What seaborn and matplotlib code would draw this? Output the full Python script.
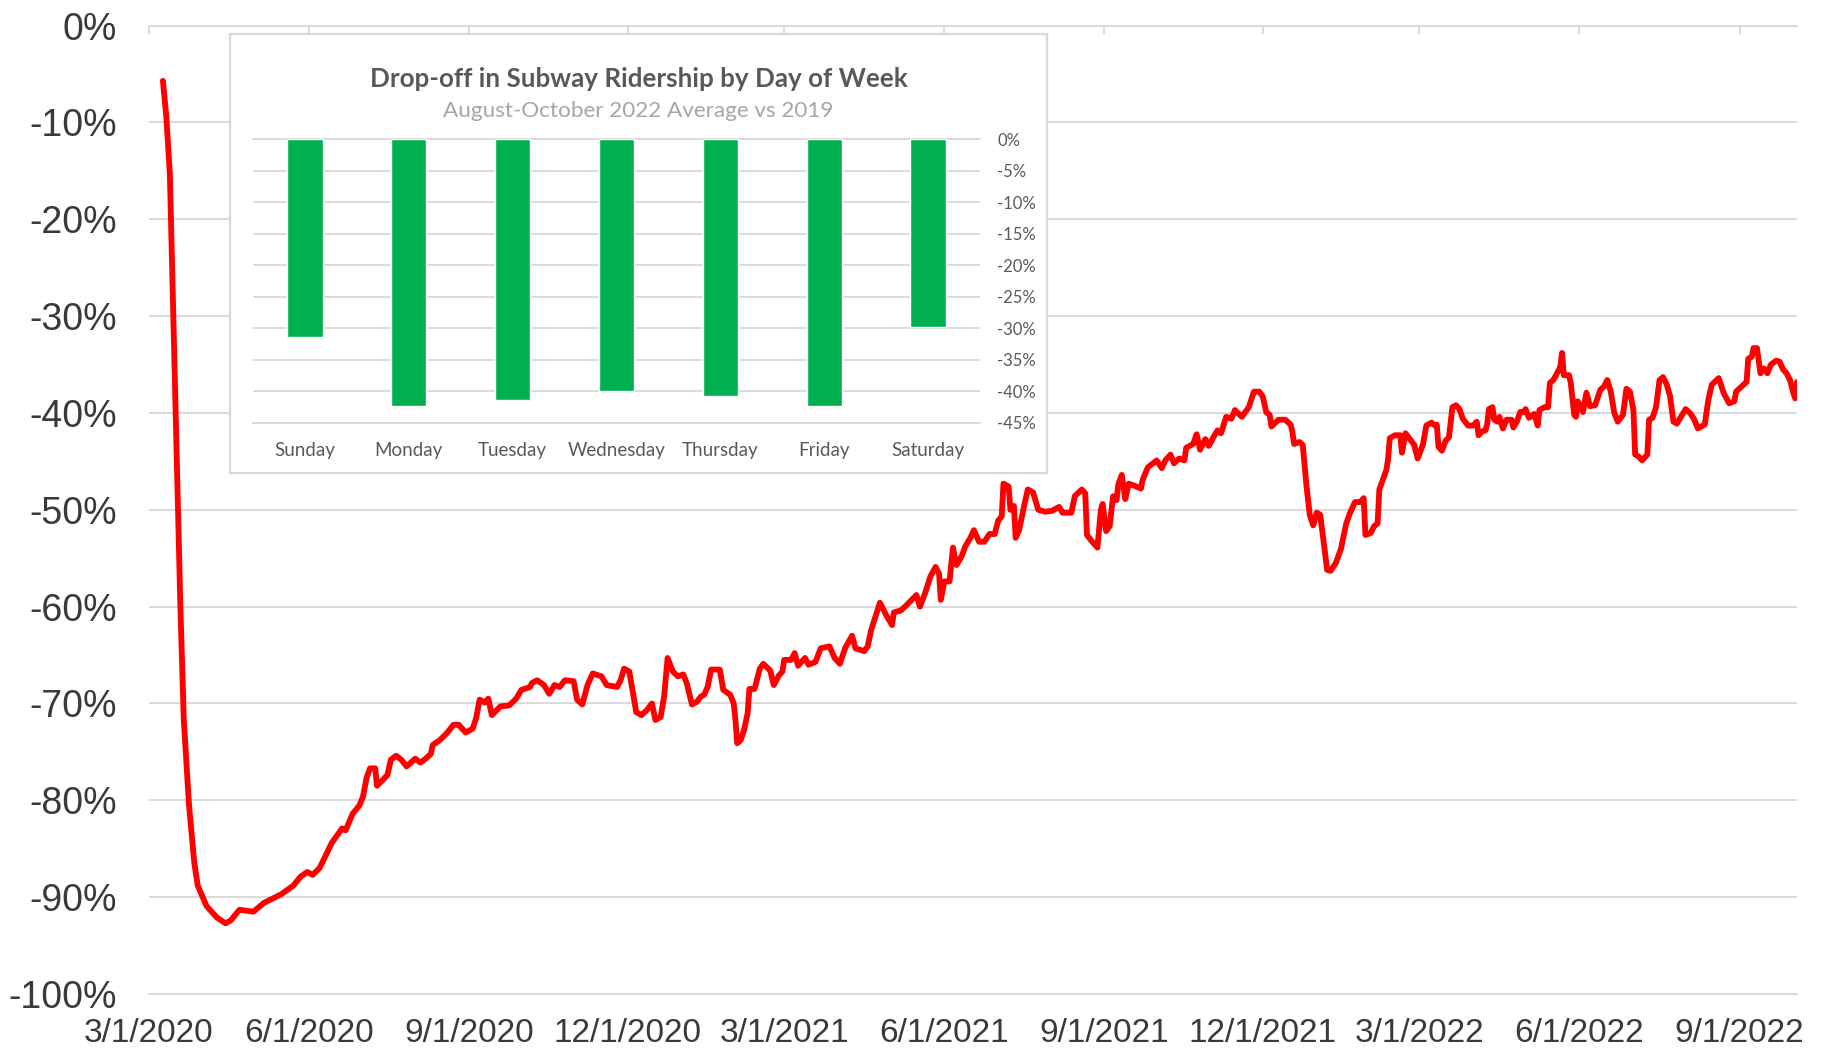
import matplotlib
matplotlib.use("Agg")
import matplotlib.pyplot as plt
import matplotlib.dates as mdates
from matplotlib.ticker import FuncFormatter, MultipleLocator
import numpy as np
import pandas as pd
import seaborn as sns

# daily subway ridership vs 2019 (days after 3/1/2020, percent)
start_date = "2020-03-01"
day_offset = [
    8, 10, 12, 14, 16, 18, 20, 23, 26, 28, 33, 39, 44, 47, 52, 60, 66, 76, 83,
    87, 91, 94, 98, 101, 105, 111, 113, 117, 121, 123, 125, 127, 130, 131, 137, 139,
    142, 145, 148, 153, 156, 159, 162, 163, 167, 171, 175, 178, 182, 186, 188, 190,
    193, 195, 197, 202, 207, 211, 214, 219, 220, 223, 227, 230, 233, 236, 239, 244,
    246, 249, 252, 255, 260, 263, 266, 269, 271, 273, 276, 280, 283, 286, 289, 291,
    294, 296, 298, 301, 304, 307, 309, 312, 315, 317, 319, 321, 323, 328, 330, 334,
    336, 337, 338, 340, 342, 344, 345, 348, 351, 353, 357, 359, 362, 364, 365, 369,
    371, 373, 377, 379, 383, 386, 391, 394, 397, 400, 404, 406, 411, 413, 415, 420,
    424, 427, 428, 432, 435, 441, 443, 446, 449, 452, 454, 455, 457, 460, 462, 464,
    467, 469, 472, 474, 477, 480, 483, 486, 488, 490, 491, 494, 495, 497, 498, 500,
    503, 505, 508, 511, 515, 519, 523, 525, 530, 532, 536, 538, 539, 542, 545, 547,
    548, 550, 552, 554, 556, 557, 559, 561, 563, 566, 570, 571, 574, 577, 579, 582,
    584, 587, 589, 592, 595, 596, 600, 602, 604, 607, 609, 612, 614, 616, 619, 622,
    624, 628, 630, 632, 634, 635, 638, 640, 642, 644, 645, 649, 653, 656, 657, 658,
    661, 663, 665, 667, 669, 671, 673, 675, 677, 679, 682, 685, 686, 688, 690, 693,
    696, 698, 699, 702, 704, 706, 707, 709, 711, 712, 713, 716, 719, 720, 722, 725,
    727, 729, 732, 734, 737, 739, 740, 741, 743, 745, 747, 749, 751, 753, 755, 758,
    761, 763, 764, 766, 768, 769, 770, 772, 773, 775, 776, 778, 780, 783, 784, 786,
    788, 790, 791, 793, 796, 798, 799, 802, 804, 805, 807, 810, 811, 812, 813, 816,
    817, 819, 820, 821, 824, 826, 828, 831, 834, 836, 838, 840, 842, 844, 847, 849,
    851, 853, 854, 856, 858, 861, 862, 864, 866, 868, 870, 872, 874, 876, 878, 881,
    883, 886, 888, 890, 894, 896, 898, 902, 905, 908, 911, 912, 915, 918, 919, 921,
    922, 924, 926, 928, 930, 932, 935, 937, 939, 941, 943, 945, 946, 947,
]
ridership_change = [
    -5.7, -9.5, -15.4, -30.2, -45.0, -59.8, -71.7, -80.5, -86.4, -88.8, -90.9, -92.1, -92.7, -92.4, -91.3, -91.5, -90.6, -89.7, -88.8,
    -87.9, -87.4, -87.7, -87.0, -85.9, -84.4, -82.9, -83.1, -81.4, -80.5, -79.6, -77.7, -76.7, -76.7, -78.5, -77.4, -75.8,
    -75.4, -75.8, -76.5, -75.7, -76.1, -75.7, -75.2, -74.3, -73.8, -73.1, -72.2, -72.2, -73.0, -72.6, -71.5, -69.6,
    -69.9, -69.5, -71.2, -70.3, -70.2, -69.5, -68.6, -68.3, -67.9, -67.6, -68.1, -69.0, -68.1, -68.3, -67.6, -67.7,
    -69.6, -70.1, -68.1, -66.9, -67.2, -68.1, -68.2, -68.3, -67.6, -66.4, -66.7, -70.9, -71.2, -70.7, -70.0, -71.7,
    -71.4, -69.3, -65.3, -66.7, -67.2, -67.0, -67.9, -70.1, -69.8, -69.3, -69.1, -68.3, -66.5, -66.5, -68.6, -69.1,
    -70.0, -71.7, -74.1, -73.8, -72.7, -71.0, -68.5, -68.5, -66.4, -65.9, -66.6, -68.1, -67.1, -66.7, -65.5, -65.5,
    -64.8, -66.1, -65.3, -66.0, -65.7, -64.3, -64.1, -65.3, -65.9, -64.3, -63.0, -64.3, -64.6, -64.1, -62.4, -59.6,
    -61.0, -61.9, -60.6, -60.4, -59.9, -58.8, -60.0, -58.6, -56.9, -55.9, -56.6, -59.3, -57.4, -57.4, -53.9, -55.7,
    -54.8, -53.8, -52.9, -52.1, -53.3, -53.3, -52.5, -52.5, -51.1, -50.7, -47.3, -47.6, -50.0, -49.6, -52.9, -52.1,
    -49.5, -47.9, -48.2, -50.0, -50.2, -50.1, -49.7, -50.3, -50.3, -48.6, -47.9, -48.3, -52.6, -53.3, -53.9, -50.0,
    -49.4, -52.2, -51.7, -48.6, -49.0, -47.4, -46.4, -48.9, -47.3, -47.5, -47.8, -46.9, -45.6, -45.2, -44.9, -45.7,
    -44.9, -44.3, -45.2, -44.7, -44.9, -43.6, -43.2, -42.2, -43.8, -42.7, -43.4, -42.4, -41.8, -42.1, -40.4, -40.6,
    -39.7, -40.4, -39.9, -39.4, -38.3, -37.8, -37.8, -38.3, -39.9, -40.2, -41.4, -40.7, -40.7, -41.2, -41.9, -43.2,
    -43.0, -43.3, -47.3, -50.5, -51.6, -50.3, -50.5, -53.3, -56.2, -56.3, -55.5, -54.0, -53.1, -51.4, -50.4, -49.2,
    -49.2, -48.8, -52.6, -52.4, -51.7, -51.4, -47.9, -46.9, -45.9, -44.8, -42.6, -42.3, -42.3, -44.1, -42.1, -42.8,
    -43.3, -44.7, -43.3, -41.3, -41.0, -41.3, -41.2, -43.5, -43.9, -42.9, -42.5, -39.4, -39.2, -39.6, -40.6, -41.3,
    -41.3, -40.9, -42.3, -41.9, -41.8, -41.1, -39.6, -39.4, -40.7, -40.9, -40.4, -41.6, -40.7, -40.7, -41.5, -40.9,
    -39.9, -39.9, -39.6, -40.5, -40.1, -41.3, -39.7, -39.4, -39.4, -36.9, -36.6, -35.6, -35.2, -33.8, -36.1, -36.1,
    -36.9, -40.2, -40.4, -38.8, -39.9, -37.9, -39.3, -39.2, -37.6, -37.3, -36.6, -37.8, -40.0, -40.9, -40.2, -37.5,
    -37.8, -39.7, -44.3, -44.5, -44.9, -44.3, -40.7, -40.5, -39.4, -36.6, -36.3, -37.0, -38.2, -40.9, -41.1, -40.2,
    -39.6, -40.1, -40.7, -41.6, -41.2, -38.7, -37.1, -36.4, -38.0, -39.0, -38.8, -37.8, -37.3, -36.8, -34.4, -34.2,
    -33.3, -33.3, -35.9, -35.4, -35.9, -35.0, -34.6, -34.7, -35.5, -35.9, -36.6, -38.0, -38.5, -36.8,
]
axis_end_day = 947

# inset: Aug-Oct 2022 average vs 2019 by day of week
weekdays = ["Sunday", "Monday", "Tuesday", "Wednesday", "Thursday", "Friday", "Saturday"]
weekday_change = [-31.3, -42.3, -41.3, -40.0, -40.7, -42.3, -29.7]

inset_title = "Drop-off in Subway Ridership by Day of Week"
inset_subtitle = "August-October 2022 Average vs 2019"

sns.set_style("white")
plt.rcParams['font.family'] = ['Liberation Sans', 'DejaVu Sans']

W, H = 1823, 1049
fig = plt.figure(figsize=(W / 100, H / 100), dpi=100)
fig.patch.set_facecolor("white")

grid_c = "#D9D9D9"
base = pd.Timestamp(start_date)
df = pd.DataFrame({
    "date": base + pd.to_timedelta(day_offset, unit="D"),
    "change": ridership_change,
})

# main chart
ax = fig.add_axes([149 / W, 1 - 994 / H, (1797 - 149) / W, (994 - 25.6) / H])
sns.lineplot(data=df, x="date", y="change", ax=ax, color="#FF0000", linewidth=4.2,
             solid_joinstyle="round", solid_capstyle="round")
ax.set_xlim(base, base + pd.Timedelta(days=axis_end_day))
ax.set_ylim(-100, 0)
ax.yaxis.set_major_locator(MultipleLocator(10))
ax.yaxis.set_major_formatter(FuncFormatter(lambda v, _: f"{int(round(v))}%"))
ax.xaxis.set_major_locator(mdates.MonthLocator(bymonth=[3, 6, 9, 12], bymonthday=1))
ax.xaxis.set_major_formatter(FuncFormatter(
    lambda v, _: "{d.month}/{d.day}/{d.year}".format(d=mdates.num2date(v))))
ax.set_xlabel("")
ax.set_ylabel("")
ax.grid(axis="y", color=grid_c, linewidth=1.4)
ax.grid(axis="x", visible=False)
for side in ["left", "right"]:
    ax.spines[side].set_visible(False)
for side in ["top", "bottom"]:
    ax.spines[side].set_color(grid_c)
    ax.spines[side].set_linewidth(1.4)
ax.tick_params(axis="y", left=False, labelsize=27, labelcolor="#3A3A3A", pad=19.5)
ax.tick_params(axis="x", top=True, bottom=False, direction="in", length=6, width=1.4,
               color=grid_c, labelbottom=True, labeltop=False, labelsize=24,
               labelcolor="#3A3A3A", pad=17)

# inset frame
frame = fig.add_axes([230 / W, 1 - 473 / H, (1047 - 230) / W, (473 - 34) / H], zorder=5)
frame.set_facecolor("white")
frame.set_xticks([])
frame.set_yticks([])
for s in frame.spines.values():
    s.set_color(grid_c)
    s.set_linewidth(1.6)
inset_font = ['Lato', 'DejaVu Sans']
frame.text(0.5, 1 - (79.5 - 34) / 439, inset_title, transform=frame.transAxes, ha="center",
           va="center", fontsize=18.7, fontweight="bold", color="#595959", family=inset_font)
frame.text(0.5, 1 - (111.5 - 34) / 439, inset_subtitle, transform=frame.transAxes, ha="center",
           va="center", fontsize=16.2, color="#A6A6A6", family=inset_font)

# inset bars
bx = fig.add_axes([253 / W, 1 - 423 / H, (980 - 253) / W, (423 - 139.5) / H], zorder=6)
bx.patch.set_alpha(0)
bar_df = pd.DataFrame({"day": weekdays, "change": weekday_change})
sns.barplot(data=bar_df, x="day", y="change", ax=bx, color="#00B050", saturation=1,
            width=0.34, zorder=3)
bx.set_ylim(-45, 0)
bx.set_xlim(-0.5, len(weekdays) - 0.5)
bx.yaxis.set_major_locator(MultipleLocator(5))
bx.yaxis.set_major_formatter(FuncFormatter(lambda v, _: f"{int(round(v))}%"))
bx.yaxis.tick_right()
bx.set_xlabel("")
bx.set_ylabel("")
bx.grid(axis="y", color=grid_c, linewidth=1.3, zorder=0)
bx.set_axisbelow(True)
for side in ["left", "right"]:
    bx.spines[side].set_visible(False)
for side in ["top", "bottom"]:
    bx.spines[side].set_color(grid_c)
    bx.spines[side].set_linewidth(1.3)
bx.tick_params(axis="y", right=False, left=False, labelsize=12, labelcolor="#595959", pad=9)
bx.tick_params(axis="x", bottom=False, labelsize=13.5, labelcolor="#595959", pad=10)
for lab in bx.get_xticklabels() + bx.get_yticklabels():
    lab.set_family(inset_font)

fig.savefig("out.png", dpi=100, facecolor="white")
